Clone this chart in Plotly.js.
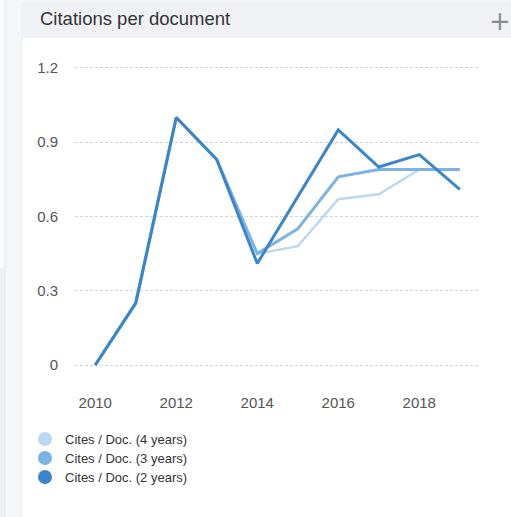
<!DOCTYPE html>
<html>
<head>
<meta charset="utf-8">
<script src="https://cdn.plot.ly/plotly-3.0.1.min.js"></script>
<style>
html,body{margin:0;padding:0;background:#f5f6f8;}
#chart{width:511px;height:517px;}
</style>
</head>
<body>
<div id="chart"></div>
<script>
var years = [2010, 2011, 2012, 2013, 2014, 2015, 2016, 2017, 2018, 2019];
var cites4 = [0, 0.25, 1.0, 0.83, 0.45, 0.48, 0.67, 0.69, 0.79, 0.79];
var cites3 = [0, 0.25, 1.0, 0.83, 0.45, 0.55, 0.76, 0.79, 0.79, 0.79];
var cites2 = [0, 0.25, 1.0, 0.83, 0.41, 0.68, 0.95, 0.80, 0.85, 0.71];
var seriesNames = ['Cites / Doc. (4 years)', 'Cites / Doc. (3 years)', 'Cites / Doc. (2 years)'];
var xTicks = [2010, 2012, 2014, 2016, 2018];
var yTicks = [0, 0.3, 0.6, 0.9, 1.2];
var yTickText = ['0', '0.3', '0.6', '0.9', '1.2'];

var colors = ['#bad8f1', '#7db3e3', '#3b86c8'];
var widths = [2.5, 3, 3];
var allSeries = [cites4, cites3, cites2];
var legendIds = ['legend', 'legend2', 'legend3'];

var W = 511, H = 517, L = 75, R = 33, T = 65, B = 149;
var pw = W - L - R, ph = H - T - B;
function px(x){ return (x - L) / pw; }
function py(y){ return (H - B - y) / ph; }

var traces = [];
for (var i = 0; i < 3; i++) {
  traces.push({
    x: years, y: allSeries[i], type: 'scatter', mode: 'lines',
    name: seriesNames[i], legendgroup: 'g' + i, showlegend: false,
    line: {color: colors[i], width: widths[i], shape: 'linear'},
    hoverinfo: 'x+y'
  });
}
for (var j = 0; j < 3; j++) {
  traces.push({
    x: [null], y: [null], type: 'scatter', mode: 'markers',
    name: seriesNames[j], legendgroup: 'g' + j, showlegend: true,
    legend: legendIds[j],
    marker: {color: colors[j], size: 14, symbol: 'circle'}
  });
}

var font = 'Arial, "Liberation Sans", sans-serif';
function legendAt(cy) {
  return {
    x: px(25), xanchor: 'left', xref: 'paper',
    y: py(cy), yanchor: 'middle', yref: 'paper',
    bgcolor: 'rgba(0,0,0,0)', borderwidth: 0,
    font: {family: font, size: 13, color: '#333333'},
    itemsizing: 'trace'
  };
}
var layout = {
  width: W, height: H,
  margin: {l: L, r: R, t: T, b: B, pad: 0},
  paper_bgcolor: '#f5f6f8',
  plot_bgcolor: 'rgba(0,0,0,0)',
  font: {family: font, color: '#666666'},
  title: {
    text: 'Citations per document',
    font: {family: font, size: 18.5, color: '#333333'},
    xref: 'container', yref: 'container',
    x: 40 / W, xanchor: 'left',
    y: 1 - 19 / H, yanchor: 'middle'
  },
  xaxis: {
    range: [2009.5, 2019.45],
    tickvals: xTicks, ticktext: xTicks.map(String),
    showgrid: false, zeroline: false, showline: false,
    ticks: 'outside', ticklen: 21, tickcolor: 'rgba(0,0,0,0)',
    tickfont: {family: font, size: 15, color: '#555555'},
    fixedrange: true
  },
  yaxis: {
    range: [-0.012, 1.212],
    tickvals: yTicks, ticktext: yTickText,
    showgrid: true, gridcolor: '#d4d4d4', gridwidth: 1, griddash: '3px,2px',
    zeroline: false, showline: false,
    ticks: 'outside', ticklen: 13, tickcolor: 'rgba(0,0,0,0)',
    tickfont: {family: font, size: 15, color: '#555555'},
    fixedrange: true
  },
  showlegend: true,
  legend: legendAt(439),
  legend2: legendAt(458),
  legend3: legendAt(477),
  shapes: [
    {type: 'rect', xref: 'paper', yref: 'paper', layer: 'below',
     x0: px(0), x1: px(5), y0: py(0), y1: py(268),
     fillcolor: '#fbfbfc', line: {width: 0}},
    {type: 'rect', xref: 'paper', yref: 'paper', layer: 'below',
     x0: px(0), x1: px(5), y0: py(268), y1: py(H),
     fillcolor: '#eef0f4', line: {width: 0}},
    {type: 'line', xref: 'paper', yref: 'paper', layer: 'below',
     x0: px(5), x1: px(5), y0: py(0), y1: py(H),
     line: {color: '#e6e7ea', width: 1}},
    {type: 'rect', xref: 'paper', yref: 'paper', layer: 'below',
     x0: px(22), x1: px(W + 5), y0: py(3), y1: py(H + 5),
     fillcolor: '#ffffff', line: {color: '#eaebee', width: 1}},
    {type: 'rect', xref: 'paper', yref: 'paper', layer: 'below',
     x0: px(22), x1: px(W + 5), y0: py(3), y1: py(38),
     fillcolor: '#f0f1f5', line: {width: 0}}
  ],
  annotations: [
    {text: '+', xref: 'paper', yref: 'paper', x: px(500), y: py(21),
     xanchor: 'center', yanchor: 'middle', showarrow: false,
     font: {family: '"DejaVu Sans", sans-serif', size: 26, color: '#8c8c8c'}}
  ]
};

Plotly.newPlot('chart', traces, layout, {displayModeBar: false, staticPlot: true});
</script>
</body>
</html>
